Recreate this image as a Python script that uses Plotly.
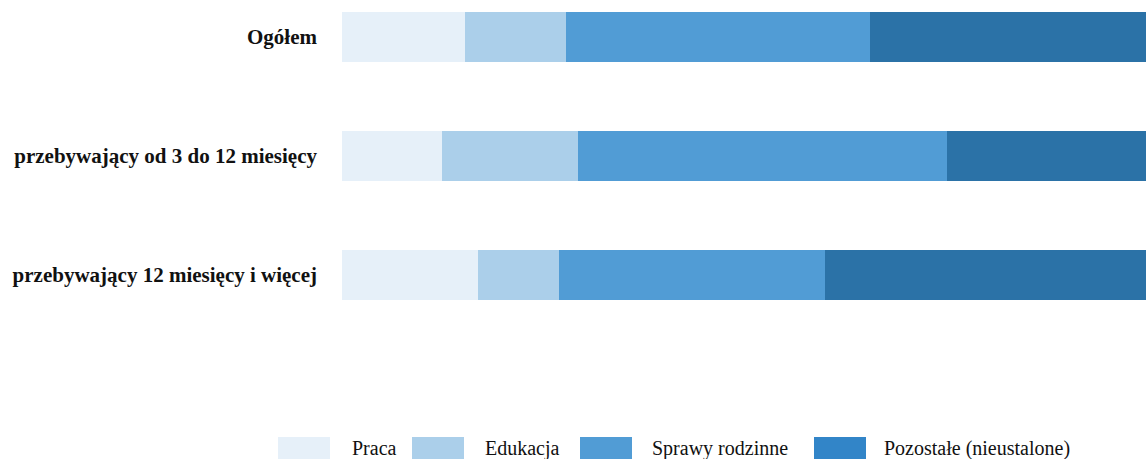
import plotly.graph_objects as go

categories = [
    "Ogółem",
    "przebywający od 3 do 12 miesięcy",
    "przebywający 12 miesięcy i więcej",
]
series_names = ["Praca", "Edukacja", "Sprawy rodzinne", "Pozostałe (nieustalone)"]
praca = [15.3, 12.4, 16.9]
edukacja = [12.6, 16.9, 10.1]
sprawy = [37.8, 46.0, 33.1]
pozostale = [34.3, 24.7, 39.9]
series_values = [praca, edukacja, sprawy, pozostale]

bar_colors = ["#e6f0f9", "#abcfea", "#519cd5", "#2b72a7"]
legend_colors = ["#e6f0f9", "#abcfea", "#519cd5", "#3285c8"]

W, H = 1146, 459
ML, PH = 342, 400
PW = W - ML

fig = go.Figure()

for name, values, color in zip(series_names, series_values, bar_colors):
    fig.add_trace(go.Bar(
        y=categories,
        x=values,
        name=name,
        orientation="h",
        width=0.42,
        marker=dict(color=color, line=dict(width=0)),
        showlegend=False))

# legend drawn by hand: big rectangular swatches like the source
legend_swatch_x = [278, 412, 580, 814]
legend_text_x = [350, 483, 650, 882]
for name, color, sx, tx in zip(series_names, legend_colors, legend_swatch_x, legend_text_x):
    fig.add_shape(
        type="rect", xref="paper", yref="paper",
        x0=(sx - ML) / PW, x1=(sx + 52 - ML) / PW,
        y0=-(437 - PH) / PH, y1=-(459 - PH) / PH,
        fillcolor=color, line=dict(width=0), layer="above")
    fig.add_annotation(
        text=name, xref="paper", yref="paper",
        x=(tx - ML) / PW, y=-(448 - PH) / PH,
        xanchor="left", yanchor="middle", showarrow=False,
        font=dict(family="Liberation Serif", size=20, color="#111111"))

fig.update_layout(
    barmode="stack",
    width=W,
    height=H,
    margin=dict(l=ML, r=0, t=0, b=H - PH),
    plot_bgcolor="white",
    paper_bgcolor="white",
    font=dict(family="Liberation Serif", size=20, color="#111111"),
    bargap=0,
)
fig.update_xaxes(range=[0, 100], visible=False, fixedrange=True)
fig.update_yaxes(
    range=[-37 / 119 + PH / 119, -37 / 119],
    showgrid=False,
    showline=False,
    ticks="",
    ticklabelstandoff=24,
    tickfont=dict(family="Liberation Serif", size=21, color="#111111", weight="bold"),
)

# drop the page margin so the figure fills the window exactly
fig.write_html(
    "out.html",
    config={"displayModeBar": False},
    post_script="document.body.style.margin='0';document.body.style.overflow='hidden';")
